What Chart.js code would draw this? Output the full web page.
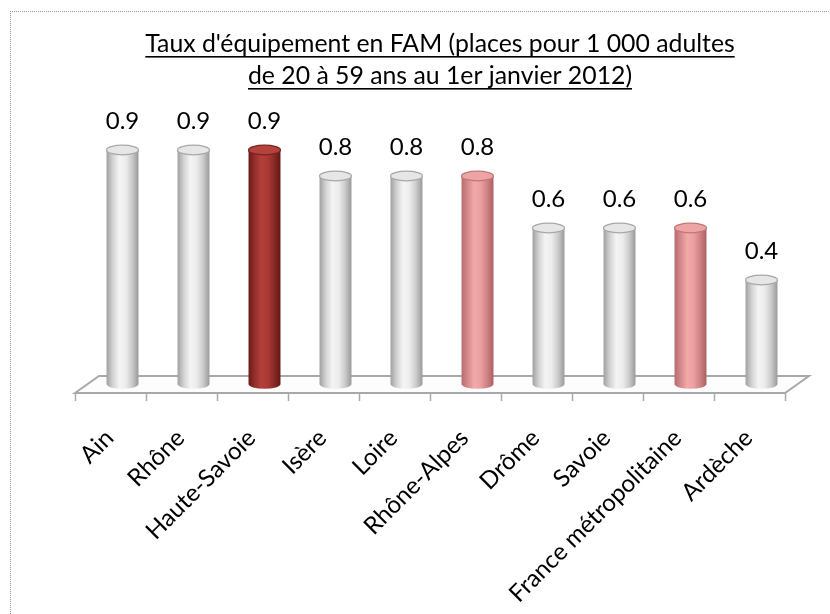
<!DOCTYPE html>
<html>
<head>
<meta charset="utf-8">
<script src="https://cdn.jsdelivr.net/npm/chart.js@4.4.1/dist/chart.umd.min.js"></script>
<style>
    html, body { margin: 0; padding: 0; background: #fff; }
    #wrap { position: relative; width: 830px; height: 614px; overflow: hidden; }
    #frame {
        position: absolute; left: 10px; top: 11px; width: 900px; height: 700px;
        border-left: 1px dotted #9a9a9a; border-top: 1px dotted #9a9a9a;
    }
    #tauxChart { position: absolute; left: 0; top: 0; }
</style>
</head>
<body>
<div id="wrap">
    <div id="frame"></div>
    <canvas id="tauxChart" width="830" height="614"></canvas>
</div>
<script>
const territoires = ["Ain", "Rhône", "Haute-Savoie", "Isère", "Loire", "Rhône-Alpes",
    "Drôme", "Savoie", "France métropolitaine", "Ardèche"];
const taux = [0.9, 0.9, 0.9, 0.8, 0.8, 0.8, 0.6, 0.6, 0.6, 0.4];
const titre = ["Taux d'équipement en FAM (places pour 1 000 adultes",
    "de 20 à 59 ans au 1er janvier 2012)"];

// grey for departments, dark red for Haute-Savoie, pink for the references
const teintes = {
    gris: { stops: ["#a0a0a0", "#d3d3d3", "#f4f4f4", "#ececec", "#cbcbcb", "#999999"], cap: "#e6e6e6", edge: "#a8a8a8" },
    rouge: { stops: ["#6c1917", "#93302c", "#b33f3a", "#aa3935", "#8a2a27", "#621614"], cap: "#b4433e", edge: "#7a211e" },
    rose: { stops: ["#b66c6d", "#d88a8b", "#f2a9a9", "#eaa0a0", "#d08283", "#a96061"], cap: "#eea4a4", edge: "#c07778" }
};
const teinteBarre = ["gris", "gris", "rouge", "gris", "gris", "rose", "gris", "gris", "rose", "gris"];

const FONT = "Lato, 'Open Sans', sans-serif";

function fitSize(ctx, text, width) {
    ctx.font = "40px " + FONT;
    return 40 * width / ctx.measureText(text).width;
}

const cylindres = {
    id: "cylindres",
    beforeDatasetsDraw(chart) {
        const { ctx, chartArea: ca } = chart;
        const base = ca.bottom;
        const catW = (ca.right - ca.left) / territoires.length;
        const fl = ca.left - 12, bl = ca.left + 12;
        const fr = ca.right - 12, br = ca.right + 12;
        const fy = base + 9, by = base - 8;

        ctx.save();
        // floor
        ctx.beginPath();
        ctx.moveTo(fl, fy);
        ctx.lineTo(bl, by);
        ctx.lineTo(br, by);
        ctx.lineTo(fr, fy);
        ctx.closePath();
        ctx.fillStyle = "#fdfdfd";
        ctx.fill();
        ctx.strokeStyle = "#a9a9a9";
        ctx.lineWidth = 2;
        ctx.stroke();
        // ticks
        ctx.lineWidth = 1.5;
        for (let i = 0; i <= territoires.length; i++) {
            const x = Math.round(fl + i * catW) + 0.5;
            ctx.beginPath();
            ctx.moveTo(x, fy);
            ctx.lineTo(x, fy + 8);
            ctx.stroke();
        }
        ctx.restore();
    },
    afterDatasetsDraw(chart) {
        const { ctx } = chart;
        const meta = chart.getDatasetMeta(0);
        ctx.save();
        meta.data.forEach((el, i) => {
            const t = teintes[teinteBarre[i]];
            const cx = el.x, top = el.y, bottom = el.base;
            const r = el.width / 2, ry = r * 0.3;

            const g = ctx.createLinearGradient(cx - r, 0, cx + r, 0);
            t.stops.forEach((c, k) => g.addColorStop(k / (t.stops.length - 1), c));

            ctx.beginPath();
            ctx.moveTo(cx - r, top);
            ctx.lineTo(cx - r, bottom);
            ctx.ellipse(cx, bottom, r, ry, 0, Math.PI, 0, true);
            ctx.lineTo(cx + r, top);
            ctx.closePath();
            ctx.fillStyle = g;
            ctx.fill();

            ctx.beginPath();
            ctx.ellipse(cx, top, r, ry, 0, 0, Math.PI * 2);
            ctx.fillStyle = t.cap;
            ctx.fill();
            ctx.strokeStyle = t.edge;
            ctx.lineWidth = 1.2;
            ctx.stroke();

            // value label
            ctx.fillStyle = "#000";
            ctx.font = "24px " + FONT;
            ctx.textAlign = "center";
            ctx.textBaseline = "middle";
            ctx.fillText(taux[i].toFixed(1), cx, top - 29);
        });
        ctx.restore();
    },
    afterDraw(chart) {
        const { ctx, chartArea: ca } = chart;
        const catW = (ca.right - ca.left) / territoires.length;
        const fl = ca.left - 12;
        ctx.save();

        // title, underlined
        const ts = fitSize(ctx, titre[0], 590);
        ctx.font = ts + "px " + FONT;
        ctx.fillStyle = "#000";
        ctx.textAlign = "center";
        ctx.textBaseline = "alphabetic";
        titre.forEach((line, k) => {
            const y = 52 + k * 32;
            ctx.fillText(line, 440, y);
            const w = ctx.measureText(line).width;
            ctx.fillRect(440 - w / 2, y + 4, w, 1.6);
        });

        // category labels at 45 degrees
        const ls = fitSize(ctx, "France métropolitaine", 232);
        ctx.font = ls + "px " + FONT;
        ctx.textAlign = "right";
        ctx.textBaseline = "middle";
        territoires.forEach((name, i) => {
            const x = fl + (i + 0.5) * catW;
            ctx.save();
            ctx.translate(x - 1, ca.bottom + 50);
            ctx.rotate(-Math.PI / 4);
            ctx.fillText(name, 0, 0);
            ctx.restore();
        });
        ctx.restore();
    }
};

new Chart(document.getElementById("tauxChart"), {
    type: "bar",
    data: {
        labels: territoires,
        datasets: [{
            data: taux,
            backgroundColor: "rgba(0,0,0,0)",
            borderWidth: 0,
            barPercentage: 0.45,
            categoryPercentage: 1
        }]
    },
    options: {
        responsive: false,
        animation: false,
        devicePixelRatio: 1,
        layout: { padding: { left: 87, right: 33, top: 124, bottom: 230 } },
        scales: {
            x: { display: false },
            y: { display: false, min: 0, max: 1 }
        },
        plugins: { legend: { display: false }, tooltip: { enabled: false } }
    },
    plugins: [cylindres]
});
</script>
</body>
</html>
